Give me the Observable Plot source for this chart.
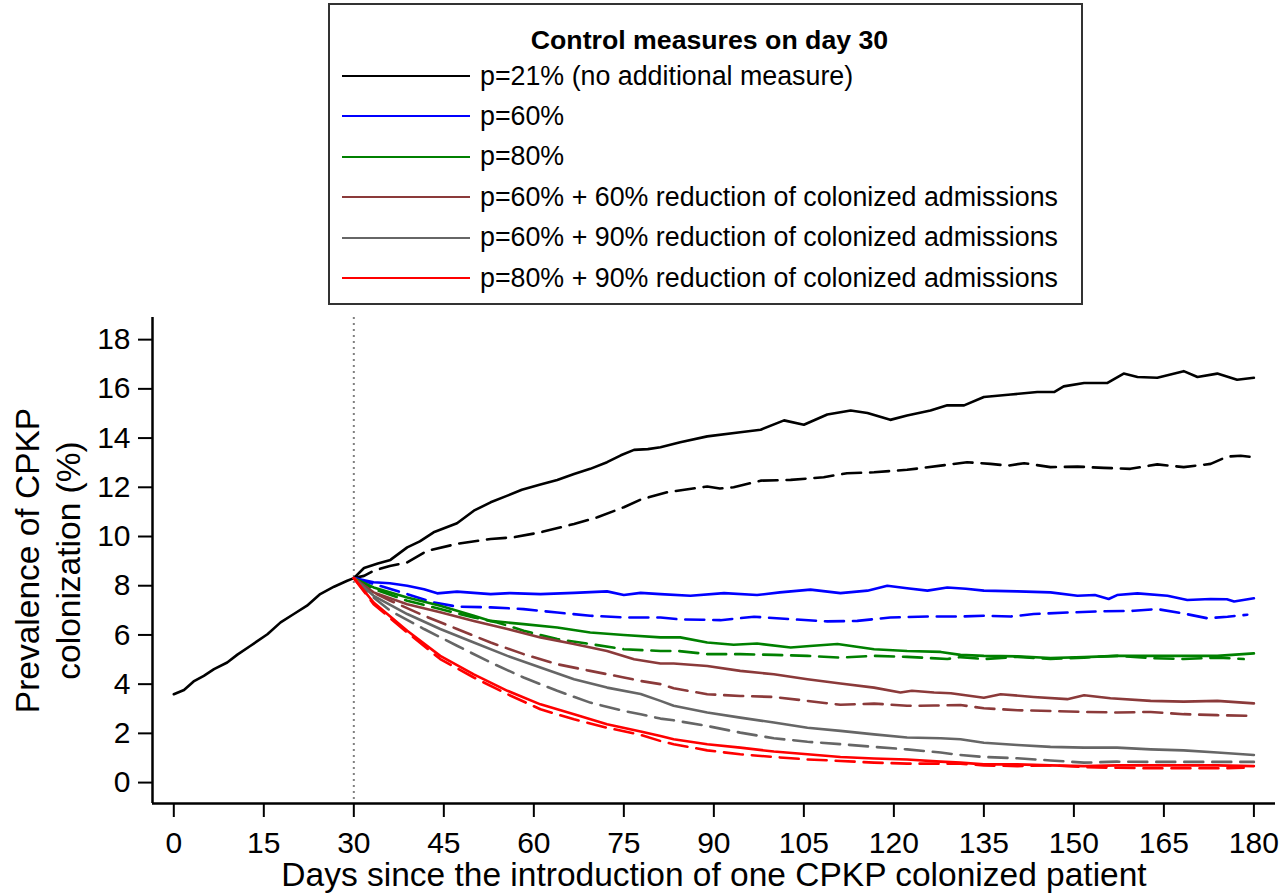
<!DOCTYPE html>
<html><head><meta charset="utf-8">
<script src="https://cdn.jsdelivr.net/npm/d3@7"></script>
<script src="https://cdn.jsdelivr.net/npm/@observablehq/plot@0.6"></script>
<style>
body{margin:0;background:#fff;font-family:"Liberation Sans",Arial,sans-serif;}
#wrap{position:relative;width:1288px;height:896px;overflow:hidden;}
#legend{position:absolute;left:328px;top:3px;width:751px;height:298px;border:2px solid #333;background:#fff;}
.lt{position:absolute;left:8px;right:0;top:20px;text-align:center;font-weight:bold;font-size:26.7px;line-height:30px;}
.row{position:absolute;left:12px;height:40px;display:flex;align-items:center;font-size:26.8px;white-space:nowrap;}
.sw{width:128px;height:0;border-top:2.6px solid;margin-right:10px;}
</style></head>
<body><div id="wrap"><div id="chart"></div><div id="legend"></div></div>
<script>
// ---- axes / text ----
const xTicks = [0,15,30,45,60,75,90,105,120,135,150,165,180];
const yTicks = [0,2,4,6,8,10,12,14,16,18];
const xDomain = [-3.55, 183.6];
const yDomain = [-0.85, 18.9];
const interventionDay = 30;
const xLabel = "Days since the introduction of one CPKP colonized patient";
const yLabel = "Prevalence of CPKP\ncolonization (%)";
const legendTitle = "Control measures on day 30";
const seriesNames = ["p=21% (no additional measure)","p=60%","p=80%",
  "p=60% + 60% reduction of colonized admissions",
  "p=60% + 90% reduction of colonized admissions",
  "p=80% + 90% reduction of colonized admissions"];
const seriesColors = ["#000000","#0000ff","#008000","#8b3a3a","#666666","#ff0000"];

// ---- data: [day, prevalence %] ----
const blackSolid = [[0,3.59],[1.7,3.76],[3.3,4.11],[5,4.34],[6.7,4.61],[8.9,4.88],[10.6,5.2],[12.8,5.56],[15.6,6.03],[17.8,6.51],[20,6.85],[22.2,7.19],[24.4,7.66],[26.7,7.96],[28.9,8.2],
 [30,8.31],[31.7,8.72],[34,8.9],[36.1,9.05],[38.9,9.56],[41,9.8],[43.3,10.17],[47.2,10.54],[50,11.05],[52.8,11.39],[55.6,11.66],[58,11.9],[61.1,12.11],[63.9,12.3],[66.7,12.54],[69.4,12.75],[72.2,13.02],[74.5,13.3],[76.7,13.52],[79,13.55],[81.1,13.63],[84.4,13.83],[88.9,14.07],[94.4,14.24],[97.8,14.34],[101.7,14.72],[105,14.54],[108.9,14.96],[112.8,15.12],[115.6,15.02],[119.4,14.74],[122.2,14.92],[126.1,15.12],[128.9,15.33],[131.7,15.33],[135,15.67],[139.5,15.77],[143.9,15.87],[146.7,15.87],[148.3,16.1],[151.7,16.24],[155.6,16.24],[158.3,16.62],[160.6,16.48],[163.9,16.45],[168.3,16.72],[170.6,16.48],[173.9,16.62],[177.2,16.37],[180,16.45]];
const blackDashed = [[30,8.31],[31.7,8.4],[33.3,8.61],[36,8.8],[38.9,8.95],[42.2,9.42],[47.2,9.7],[52.8,9.9],[56.7,9.97],[61.1,10.17],[66.7,10.51],[70.6,10.78],[75,11.19],[77.8,11.5],[82.2,11.8],[88.9,12.03],[91,11.95],[93.3,12.0],[97.8,12.27],[102.8,12.3],[108.3,12.41],[112.2,12.57],[116.7,12.61],[122.2,12.71],[127.8,12.88],[132.2,13.02],[136.1,12.95],[139,12.88],[141.7,12.98],[146.1,12.82],[150.6,12.84],[155,12.79],[159.4,12.75],[163.9,12.93],[168.3,12.82],[172.8,12.95],[175.6,13.25],[177.8,13.28],[180,13.22]];
const blueSolid = [[30,8.31],[33.3,8.14],[36,8.1],[38.9,8.0],[41.7,7.86],[43.9,7.69],[47.2,7.76],[52.8,7.66],[56,7.7],[61.1,7.66],[66.7,7.71],[72.2,7.77],[75,7.62],[77.8,7.71],[81.1,7.66],[86.1,7.59],[91.7,7.7],[97.2,7.62],[101,7.73],[106.1,7.84],[111.1,7.7],[115.6,7.8],[118.9,8.0],[122.2,7.9],[125.6,7.8],[128.9,7.93],[132,7.88],[135,7.8],[140.6,7.77],[146.1,7.73],[150.6,7.59],[153.5,7.62],[155.8,7.46],[157.2,7.62],[160.6,7.69],[165.6,7.59],[168.9,7.42],[172.8,7.46],[175.5,7.45],[176.7,7.36],[180,7.49]];
const blueDashed = [[30,8.31],[33.3,8.07],[38.9,7.66],[43.3,7.32],[47.2,7.15],[52.8,7.12],[58.3,7.05],[63.9,6.91],[69.4,6.78],[75,6.71],[81.1,6.71],[84.4,6.63],[88,6.62],[91.1,6.6],[96.7,6.74],[102.8,6.64],[108.9,6.55],[113.9,6.57],[119.4,6.71],[125.6,6.75],[131.1,6.75],[135,6.78],[139.5,6.75],[143.3,6.85],[148.9,6.91],[154.4,6.96],[160,6.98],[163.9,7.05],[168.3,6.87],[172.2,6.68],[175.6,6.74],[178.9,6.82]];
const greenSolid = [[30,8.31],[33.3,7.93],[38.9,7.52],[44.4,7.19],[50,6.78],[52.8,6.57],[58.3,6.44],[63.9,6.3],[69.4,6.1],[75,6.0],[81.1,5.9],[84.4,5.9],[88.9,5.69],[93.3,5.6],[97.2,5.65],[102.8,5.49],[106,5.55],[110.6,5.63],[116.7,5.42],[122.2,5.35],[127.8,5.31],[131.1,5.19],[135,5.15],[140.6,5.13],[146.1,5.06],[151.7,5.1],[157.2,5.15],[162.8,5.15],[168.3,5.15],[173.9,5.15],[180,5.25]];
const greenDashed = [[30,8.31],[33.3,7.87],[38.9,7.39],[44.4,7.05],[50,6.71],[53.9,6.51],[58.3,6.17],[63.9,5.83],[69.4,5.63],[75,5.42],[81.1,5.35],[84,5.35],[88.9,5.22],[94.4,5.22],[100,5.19],[105.6,5.15],[111.1,5.08],[116.7,5.15],[122.2,5.11],[128.9,5.02],[131.1,5.1],[135,5.02],[140.6,5.11],[146.1,5.02],[151.7,5.08],[157.2,5.15],[162.8,5.06],[168.3,5.02],[173.9,5.08],[178.3,5.02]];
const brownSolid = [[30,8.31],[33.3,7.73],[38.9,7.25],[44.4,6.92],[50,6.57],[55.6,6.24],[61.1,5.9],[66.7,5.63],[72.2,5.35],[76.7,5.01],[81.1,4.84],[83.3,4.84],[88.9,4.74],[94.4,4.54],[100,4.4],[105.6,4.2],[111.1,4.03],[116.7,3.86],[121.1,3.66],[123,3.73],[126.7,3.66],[129.5,3.63],[135,3.45],[137.8,3.59],[143.3,3.48],[148.9,3.39],[151.7,3.55],[156.1,3.43],[162.8,3.32],[168.3,3.29],[173.9,3.32],[180,3.22]];
const brownDashed = [[30,8.31],[33,7.75],[36.1,7.39],[41.7,6.78],[47.2,6.24],[52.8,5.69],[58.3,5.22],[63.9,4.81],[69.4,4.54],[75,4.27],[77.8,4.13],[81.1,4.0],[83.3,3.83],[88.9,3.59],[94.4,3.52],[100,3.48],[105.6,3.32],[111.1,3.16],[116.7,3.21],[122.2,3.12],[126.7,3.13],[131.1,3.15],[135,3.02],[140.6,2.94],[146.1,2.91],[151.7,2.87],[157.2,2.85],[162.8,2.87],[168.3,2.78],[173.9,2.74],[180,2.71]];
const graySolid = [[30,8.31],[33.3,7.59],[38.9,6.85],[44.4,6.24],[50,5.69],[55.6,5.15],[61.1,4.68],[66.7,4.2],[72.2,3.86],[77.8,3.6],[81.1,3.32],[83.3,3.12],[88.9,2.85],[94.4,2.64],[100,2.44],[105.6,2.23],[111.1,2.1],[116.7,1.96],[122.2,1.83],[127.8,1.8],[131.1,1.76],[135,1.62],[140.6,1.53],[146.1,1.45],[151.7,1.42],[157.2,1.42],[162.8,1.35],[168.3,1.31],[173.9,1.22],[180,1.12]];
const grayDashed = [[30,8.31],[33.3,7.52],[36.1,6.98],[41.7,6.24],[47.2,5.56],[52.8,4.88],[58.3,4.27],[63.9,3.73],[69.4,3.25],[75,2.91],[77.8,2.78],[81.1,2.6],[83.3,2.53],[88.9,2.3],[94.4,2.03],[100,1.8],[105.6,1.66],[111.1,1.56],[116.7,1.45],[122.2,1.35],[127.8,1.22],[131.1,1.12],[135,1.04],[140.6,0.99],[146.1,0.9],[151.7,0.81],[157.2,0.85],[162.8,0.84],[168.3,0.84],[173.9,0.84],[180,0.84]];
const redSolid = [[30,8.31],[33.3,7.32],[38.9,6.17],[44.4,5.15],[50,4.4],[55.6,3.73],[61.1,3.18],[66.7,2.78],[72.2,2.37],[77.8,2.08],[81.1,1.89],[83.3,1.76],[88.9,1.56],[94.4,1.42],[100,1.26],[105.6,1.15],[111.1,1.04],[116.7,0.98],[122.2,0.94],[127.8,0.85],[131.1,0.81],[135,0.74],[140.6,0.74],[146.1,0.7],[151.7,0.67],[157.2,0.7],[162.8,0.7],[168.3,0.7],[173.9,0.7],[180,0.67]];
const redDashed = [[30,8.31],[33.3,7.25],[38.9,6.1],[44.4,5.02],[50,4.27],[55.6,3.59],[61.1,2.98],[66.7,2.57],[72.2,2.23],[77.8,1.94],[81.1,1.69],[83.3,1.56],[88.9,1.31],[94.4,1.15],[100,1.04],[105.6,0.94],[111.1,0.88],[116.7,0.81],[122.2,0.77],[131.1,0.77],[135,0.7],[140.6,0.67],[146.1,0.7],[151.7,0.63],[157.2,0.6],[162.8,0.58],[168.3,0.58],[173.9,0.58],[178.3,0.6]];

const solids = [blackSolid, blueSolid, greenSolid, brownSolid, graySolid, redSolid];
const dashes = [blackDashed, blueDashed, greenDashed, brownDashed, grayDashed, redDashed];

const lineMarks = [];
for (let i = 0; i < 6; i++) {
  lineMarks.push(Plot.line(dashes[i], {x: d => d[0], y: d => d[1], stroke: seriesColors[i], strokeWidth: 2.6, strokeDasharray: "19,9", curve: "linear"}));
  lineMarks.push(Plot.line(solids[i], {x: d => d[0], y: d => d[1], stroke: seriesColors[i], strokeWidth: 2.6, curve: "linear"}));
}

const chart = Plot.plot({
  width: 1288, height: 896,
  marginLeft: 152, marginRight: 13, marginTop: 317, marginBottom: 93,
  x: {domain: xDomain},
  y: {domain: yDomain},
  style: {fontFamily: "'Liberation Sans', Arial, sans-serif", color: "black", background: "white"},
  marks: [
    Plot.ruleX([interventionDay], {stroke: "#808080", strokeWidth: 2, strokeDasharray: "2,4"}),
    ...lineMarks,
    Plot.ruleX([xDomain[0]], {stroke: "black", strokeWidth: 2.5}),
    Plot.ruleY([yDomain[0]], {stroke: "black", strokeWidth: 2.5}),
    Plot.axisX({ticks: xTicks, tickSize: 14, tickPadding: 14, fontSize: 30, label: null, strokeWidth: 2, tickFormat: d => String(d)}),
    Plot.axisY({ticks: yTicks, tickSize: 14, tickPadding: 8, fontSize: 30, label: null, strokeWidth: 2, tickFormat: d => String(d)}),
    Plot.text([xLabel], {text: d => d, frameAnchor: "bottom", dy: 72, fontSize: 33.5, lineAnchor: "middle", textAnchor: "middle"}),
    Plot.text([yLabel], {text: d => d, frameAnchor: "left", dx: -106, rotate: -90, fontSize: 33.5, lineHeight: 1.22, lineAnchor: "middle", textAnchor: "middle"})
  ]
});
document.getElementById("chart").appendChild(chart);

// ---- legend ----
const leg = document.getElementById("legend");
const t = document.createElement("div");
t.className = "lt"; t.textContent = legendTitle; leg.appendChild(t);
const rowCenters = [76, 116.4, 156.8, 197.2, 237.6, 278];
seriesNames.forEach((name, i) => {
  const r = document.createElement("div");
  r.className = "row";
  r.style.top = (rowCenters[i] - 5 - 20) + "px";
  const sw = document.createElement("div");
  sw.className = "sw"; sw.style.borderTopColor = seriesColors[i];
  const tx = document.createElement("span");
  tx.textContent = name;
  r.appendChild(sw); r.appendChild(tx);
  leg.appendChild(r);
});
</script>
</body></html>
